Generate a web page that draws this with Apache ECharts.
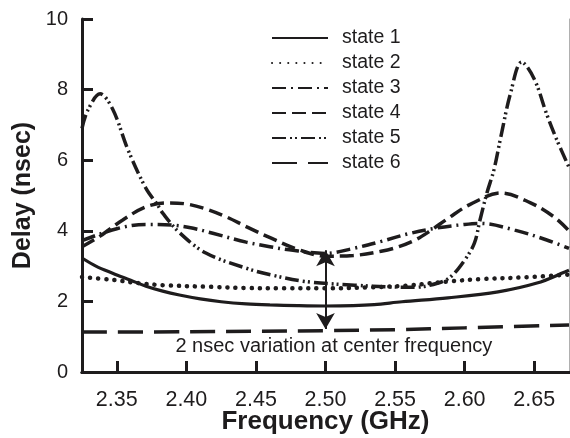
<!DOCTYPE html>
<html><head><meta charset="utf-8">
<script src="https://cdn.jsdelivr.net/npm/echarts@6/dist/echarts.min.js"></script>
<style>html,body{margin:0;padding:0;background:#fff}#c{width:570px;height:438px}</style>
</head><body><div id="c"></div>
<script>
const seriesNames = ['state 1','state 2','state 3','state 4','state 5','state 6'];
const xTicks = [2.35,2.40,2.45,2.50,2.55,2.60,2.65];
const yTicks = [0,2,4,6,8,10];

const state1 = [[2.325,3.23],[2.335,3.0],[2.347,2.80],[2.36,2.6],[2.371,2.43],[2.383,2.29],[2.395,2.18],[2.41,2.07],[2.425,1.99],[2.443,1.93],[2.46,1.9],[2.48,1.88],[2.5,1.87],[2.52,1.88],[2.535,1.91],[2.555,1.99],[2.588,2.10],[2.624,2.27],[2.652,2.52],[2.672,2.83],[2.675,2.88]];
const state2 = [[2.325,2.69],[2.347,2.61],[2.365,2.52],[2.383,2.46],[2.419,2.41],[2.443,2.38],[2.47,2.37],[2.5,2.37],[2.533,2.40],[2.56,2.45],[2.576,2.52],[2.59,2.57],[2.611,2.63],[2.647,2.69],[2.675,2.76]];
const state3 = [[2.325,3.72],[2.35,4.06],[2.371,4.18],[2.39,4.16],[2.405,4.07],[2.419,3.93],[2.443,3.68],[2.46,3.55],[2.474,3.46],[2.5,3.36],[2.52,3.5],[2.54,3.7],[2.56,3.92],[2.58,4.08],[2.6,4.18],[2.611,4.21],[2.636,4.02],[2.659,3.74],[2.675,3.5]];
const state4 = [[2.325,3.55],[2.338,3.85],[2.354,4.3],[2.371,4.68],[2.386,4.79],[2.40,4.76],[2.414,4.62],[2.429,4.39],[2.443,4.12],[2.461,3.79],[2.481,3.46],[2.50,3.28],[2.52,3.3],[2.54,3.42],[2.552,3.54],[2.565,3.75],[2.576,4.02],[2.588,4.35],[2.604,4.75],[2.626,5.07],[2.647,4.8],[2.664,4.4],[2.675,4.0]];
const state5 = [[2.325,6.9],[2.329,7.4],[2.338,7.88],[2.347,7.45],[2.358,6.3],[2.371,5.2],[2.379,4.75],[2.383,4.5],[2.395,3.95],[2.414,3.37],[2.443,2.94],[2.461,2.75],[2.486,2.56],[2.521,2.46],[2.547,2.41],[2.564,2.4],[2.581,2.52],[2.590,2.7],[2.600,3.17],[2.607,3.65],[2.611,4.3],[2.616,5.07],[2.621,5.72],[2.626,6.66],[2.633,7.9],[2.641,8.78],[2.650,8.3],[2.659,7.3],[2.666,6.6],[2.675,5.8]];
const state6 = [[2.325,1.13],[2.4,1.14],[2.5,1.17],[2.55,1.2],[2.6,1.25],[2.675,1.33]];

const annotationText = '2 nsec variation at center frequency';
const arrowFrom = [2.5, 3.45];
const arrowTo = [2.5, 1.22];
const annotationAt = [2.506, 0.72];

const dataSets = [state1,state2,state3,state4,state5,state6];
const dashes = ['solid',[0.1,8],[14,5,2,5],[14,6],[14,4,2,3,2,4],[25,11]];
const widths = [3.2,4.5,3.5,3.5,3.5,3.5];
const ink = '#1e1c1d';
const font = 'Liberation Sans, Arial, sans-serif';

const series = dataSets.map((d,i)=>({
  name: seriesNames[i], type:'line', data:d, showSymbol:false, symbol:'none',
  smooth:0.35, clip:true,
  lineStyle:{color:ink, width:widths[i], type:dashes[i], cap: i===1?'round':'butt'},
  itemStyle:{color:ink}
}));
series[0].markLine = {
  silent:true, symbol:['arrow','arrow'], symbolSize:[14,16],
  lineStyle:{color:ink,width:2,type:'solid'}, label:{show:false},
  data:[[{coord:arrowFrom},{coord:arrowTo}]]
};
series[0].markPoint = {
  silent:true, symbol:'circle', symbolSize:0,
  label:{show:true, formatter:annotationText, color:ink, fontSize:20, fontFamily:font, position:'inside'},
  data:[{coord:annotationAt}]
};

const chart = echarts.init(document.getElementById('c'));
chart.setOption({
  animation:false,
  legend:{left:266, top:23, orient:'vertical', itemWidth:56, itemHeight:14, itemGap:5,
    itemStyle:{opacity:0, borderWidth:0},
    textStyle:{fontSize:19.5, lineHeight:20, color:ink, fontFamily:font, padding:[0,0,0,9]},
    data:seriesNames},
  grid:{left:82, right:1, top:19, bottom:66, containLabel:false, outerBoundsMode:'none'},
  xAxis:[{type:'value', min:2.325, max:2.675,
    name:'Frequency (GHz)', nameLocation:'middle', nameGap:37, nameMoveOverlap:false,
    nameTextStyle:{fontSize:26, fontWeight:'bold', color:ink, fontFamily:font},
    axisLine:{lineStyle:{color:ink,width:3}},
    axisTick:{inside:true, length:11, lineStyle:{color:ink,width:3}, customValues:xTicks},
    axisLabel:{fontSize:21.5, color:ink, fontFamily:font, margin:17, customValues:xTicks, formatter:v=>v.toFixed(2)},
    splitLine:{show:false}},
   {type:'value', position:'top', min:2.325, max:2.675,
    axisLine:{show:true, lineStyle:{color:ink,width:3}}, axisTick:{show:false}, axisLabel:{show:false}, splitLine:{show:false}}],
  yAxis:[{type:'value', min:0, max:10, interval:2,
    name:'Delay (nsec)', nameLocation:'middle', nameGap:46, nameMoveOverlap:false,
    nameTextStyle:{fontSize:25, fontWeight:'bold', color:ink, fontFamily:font},
    axisLine:{show:true, lineStyle:{color:ink,width:3}},
    axisTick:{show:true, inside:true, length:11, lineStyle:{color:ink,width:3}},
    axisLabel:{fontSize:20, color:ink, fontFamily:font, margin:14},
    splitLine:{show:false}},
   {type:'value', position:'right', min:0, max:10,
    axisLine:{show:true, lineStyle:{color:'#b0b0b0',width:1}}, axisTick:{show:false}, axisLabel:{show:false}, splitLine:{show:false}}],
  series: series
});
</script></body></html>
